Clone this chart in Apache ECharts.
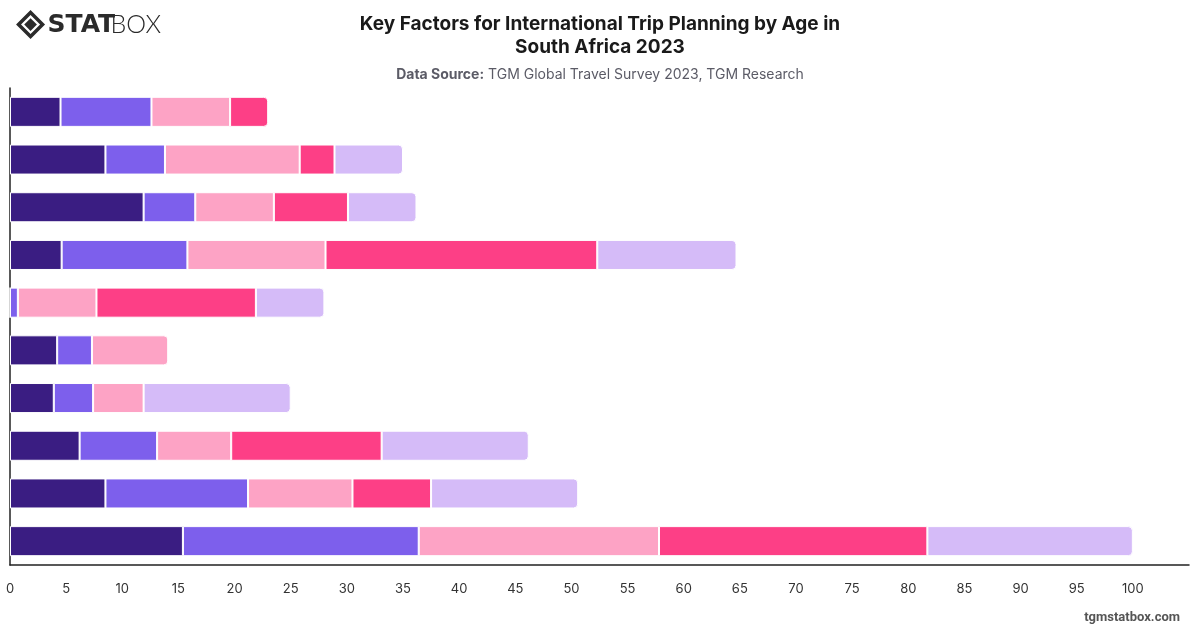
<!DOCTYPE html>
<html lang="en">
    <head>
        <meta charset="utf-8">
        <title>Key Factors for International Trip Planning by Age in South Africa 2023</title>
        <script src="https://cdn.jsdelivr.net/npm/echarts@6.0.0/dist/echarts.min.js"></script>
        <style>
            html, body { margin: 0; padding: 0; background: #fff; }
        </style>
    </head>
    <body>
        <div id="main" style="width: 1200px;height: 628px;"></div>

        <script type="text/javascript">

            // factors (labels are not shown on the chart)
            let categories = ['Factor 1', 'Factor 2', 'Factor 3', 'Factor 4', 'Factor 5',
                              'Factor 6', 'Factor 7', 'Factor 8', 'Factor 9', 'Factor 10'];

            let ageGroups = ['18-24', '25-34', '35-44', '45-54', '55+'];
            let colors = ['#3a1d82', '#7d5fec', '#fda3c5', '#fd3f86', '#d5bbf8'];

            let age1 = [4.5, 8.5, 11.9, 4.6, 0, 4.2, 3.9, 6.2, 8.5, 15.4];
            let age2 = [8.1, 5.3, 4.6, 11.2, 0.7, 3.1, 3.5, 6.9, 12.7, 21.0];
            let age3 = [7.0, 12.0, 7.0, 12.3, 7.0, 6.8, 4.5, 6.6, 9.3, 21.4];
            let age4 = [3.4, 3.1, 6.6, 24.2, 14.2, 0, 0, 13.4, 7.0, 23.9];
            let age5 = [0, 6.1, 6.1, 12.4, 6.1, 0, 13.1, 13.1, 13.1, 18.3];

            let xTicks = { min: 0, max: 105, interval: 5 };

            let seriesValues = [age1, age2, age3, age4, age5];

            let myChart = echarts.init(document.getElementById('main'));

            // round the right end of whichever segment is last in each bar
            function lastIndex(row) {
                let last = -1;
                seriesValues.forEach((vals, s) => { if (vals[row] > 0) last = s; });
                return last;
            }

            let series = seriesValues.map((vals, s) => ({
                name: ageGroups[s],
                type: 'bar',
                stack: 'total',
                barWidth: '63%',
                itemStyle: { color: colors[s], borderColor: '#fff', borderWidth: 1 },
                emphasis: { disabled: true },
                data: vals.map((v, i) => {
                    if (lastIndex(i) === s) {
                        return { value: v, itemStyle: { borderRadius: [0, 4, 4, 0] } };
                    }
                    return v;
                })
            }));

            let options = {
                animation: false,
                textStyle: { fontFamily: 'Inter, "Noto Sans", sans-serif' },
                title: {
                    text: 'Key Factors for International Trip Planning by Age in\nSouth Africa 2023',
                    left: 'center',
                    top: 8,
                    textStyle: { fontSize: 19, fontWeight: 'bold', color: '#1a1a1a', lineHeight: 23 },
                    subtext: '{b|Data Source:} TGM Global Travel Survey 2023, TGM Research',
                    itemGap: 9,
                    subtextStyle: {
                        fontSize: 14,
                        color: '#5b5b66',
                        rich: { b: { fontSize: 14, fontWeight: 'bold', color: '#5b5b66' } }
                    }
                },
                grid: { left: 10, right: 11, top: 88, bottom: 63 },
                xAxis: {
                    type: 'value',
                    min: xTicks.min,
                    max: xTicks.max,
                    interval: xTicks.interval,
                    splitLine: { show: false },
                    axisLine: { show: true, lineStyle: { color: '#222', width: 1.5 } },
                    axisTick: { show: false },
                    axisLabel: { showMaxLabel: false, color: '#333', fontSize: 13, margin: 18 }
                },
                yAxis: {
                    type: 'category',
                    data: categories,
                    inverse: true,
                    axisLine: { show: true, lineStyle: { color: '#222', width: 1.5 } },
                    axisTick: { show: false },
                    axisLabel: { show: false }
                },
                series: series,
                graphic: [
                    // logo
                    { type: 'group', left: 15, top: 9, children: [
                        { type: 'rect', shape: { x: -8.5, y: -8.5, width: 17, height: 17 }, x: 12, y: 12, rotation: Math.PI / 4,
                          style: { fill: 'none', stroke: '#2b2b2b', lineWidth: 3.5 } },
                        { type: 'rect', shape: { x: -4.5, y: -4.5, width: 9, height: 9 }, x: 12, y: 12, rotation: Math.PI / 4,
                          style: { fill: '#2b2b2b' } },
                        { type: 'text', x: 29, y: 0, style: { text: 'STAT', fontSize: 25, fontWeight: 900, fill: '#2b2b2b', fontFamily: '"DejaVu Sans", sans-serif' } },
                        { type: 'text', x: 92, y: 0, style: { text: 'BOX', fontSize: 25, fontWeight: 300, fill: '#2b2b2b', fontFamily: 'Lato, sans-serif' } }
                    ] },
                    { type: 'text', right: 20, bottom: 4, style: { text: 'tgmstatbox.com', fontSize: 13, fontWeight: 'bold', fill: '#555', fontFamily: 'Roboto, sans-serif' } }
                ]
            };

            myChart.setOption(options);

        </script>
    </body>
</html>
